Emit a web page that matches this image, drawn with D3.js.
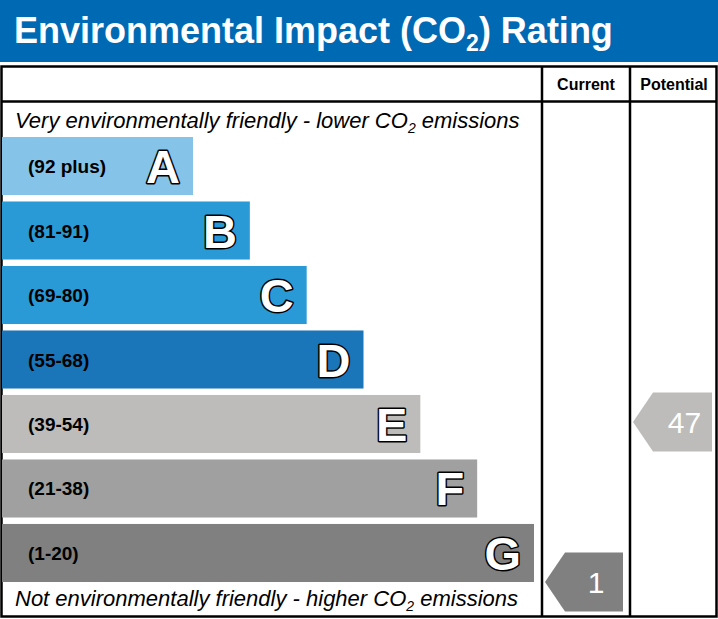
<!DOCTYPE html>
<html><head><meta charset="utf-8">
<script src="https://cdn.jsdelivr.net/npm/d3@7"></script>
<style>body{margin:0;background:#fff}</style>
</head><body><div id="chart-area"></div>
<script>
// data
var letters = ["A", "B", "C", "D", "E", "F", "G"];
var ranges = ["(92 plus)", "(81-91)", "(69-80)", "(55-68)", "(39-54)", "(21-38)", "(1-20)"];
var lows = [92, 81, 69, 55, 39, 21, 1];
var highs = [100, 91, 80, 68, 54, 38, 20];
var colors = ["#85c4e8", "#2a9ad6", "#2a9ad6", "#1b75b9", "#bdbcba", "#a0a0a0", "#808080"];
var current = 1, potential = 47;

var W = 718, H = 619;
var svg = d3.select("#chart-area").append("svg").attr("width", W).attr("height", H);

// header
svg.append("rect").attr("x", 0).attr("y", 0).attr("width", W).attr("height", 62).attr("fill", "#0069b4");
var t = svg.append("text").attr("x", 14).attr("y", 43).attr("fill", "#fff")
	.attr("font-family", "Liberation Sans, Arial").attr("font-weight", "bold").attr("font-size", 36);
t.append("tspan").text("Environmental Impact (CO");
t.append("tspan").text("2").attr("font-size", 23).attr("dy", 8);
t.append("tspan").text(") Rating").attr("dy", -8);

// frame
var g = svg.append("g").attr("fill", "none").attr("stroke", "#000").attr("stroke-width", 2.5);
g.append("rect").attr("x", 1.5).attr("y", 66.5).attr("width", 715).attr("height", 550);
g.append("line").attr("x1", 1).attr("x2", 717).attr("y1", 101.5).attr("y2", 101.5);
g.append("line").attr("x1", 542).attr("x2", 542).attr("y1", 66).attr("y2", 617);
g.append("line").attr("x1", 630).attr("x2", 630).attr("y1", 66).attr("y2", 617);

var hdr = svg.append("g").attr("font-family", "Liberation Sans, Arial").attr("font-weight", "bold")
	.attr("font-size", 16).attr("text-anchor", "middle");
hdr.append("text").attr("x", 586).attr("y", 90).text("Current");
hdr.append("text").attr("x", 674).attr("y", 90).text("Potential");

function subText(y, a, b) {
	var tx = svg.append("text").attr("x", 15).attr("y", y).attr("font-family", "Liberation Sans, Arial")
		.attr("font-style", "italic").attr("font-size", 22).attr("fill", "#000");
	tx.append("tspan").text(a);
	tx.append("tspan").text("2").attr("font-size", 14).attr("dy", 5);
	tx.append("tspan").text(b).attr("dy", -5);
}
subText(128, "Very environmentally friendly - lower CO", " emissions");
subText(606, "Not environmentally friendly - higher CO", " emissions");

// scales
var y = d3.scaleBand().domain(letters).range([137, 582]).paddingInner(0.1);
var x = d3.scaleLinear().domain([0, 6]).range([193, 534]);

var bars = svg.selectAll(".bar").data(letters).enter().append("g");
bars.append("rect").attr("x", 2).attr("y", function(d) { return y(d); })
	.attr("width", function(d, i) { return x(i) - 2; }).attr("height", y.bandwidth())
	.attr("fill", function(d, i) { return colors[i]; });
bars.append("text").attr("x", 28).attr("y", function(d) { return y(d) + y.bandwidth() / 2 + 7; })
	.attr("font-family", "Liberation Sans, Arial").attr("font-weight", "bold").attr("font-size", 19)
	.attr("fill", "#000").text(function(d, i) { return ranges[i]; });
bars.append("text").attr("x", function(d, i) { return x(i) - 13; })
	.attr("y", function(d) { return y(d) + y.bandwidth() / 2 + 17; })
	.attr("text-anchor", "end").attr("font-family", "Liberation Sans, Arial").attr("font-weight", "bold")
	.attr("font-size", 47).attr("fill", "#fff").attr("stroke", "#000").attr("stroke-width", 3)
	.attr("stroke-linejoin", "round").attr("paint-order", "stroke").text(function(d) { return d; });

// arrows
function arrow(val, x0, x1) {
	var i = lows.findIndex(function(l) { return val >= l; });
	var frac = (val - lows[i]) / (highs[i] - lows[i]);
	var h = y.bandwidth() + 1;
	var cy = y(letters[i]) + y.bandwidth() - frac * y.bandwidth();
	var pts = [[x0, cy], [x0 + 20, cy - h / 2], [x1, cy - h / 2], [x1, cy + h / 2], [x0 + 20, cy + h / 2]];
	svg.append("polygon").attr("points", pts.map(function(p) { return p.join(","); }).join(" "))
		.attr("fill", colors[i]);
	svg.append("text").attr("x", (x0 + 20 + x1) / 2 + 2).attr("y", cy + 11).attr("text-anchor", "middle")
		.attr("font-family", "Liberation Sans, Arial").attr("font-size", 30).attr("fill", "#fff").text(val);
}
arrow(current, 545, 623);
arrow(potential, 633, 712);
</script></body></html>
